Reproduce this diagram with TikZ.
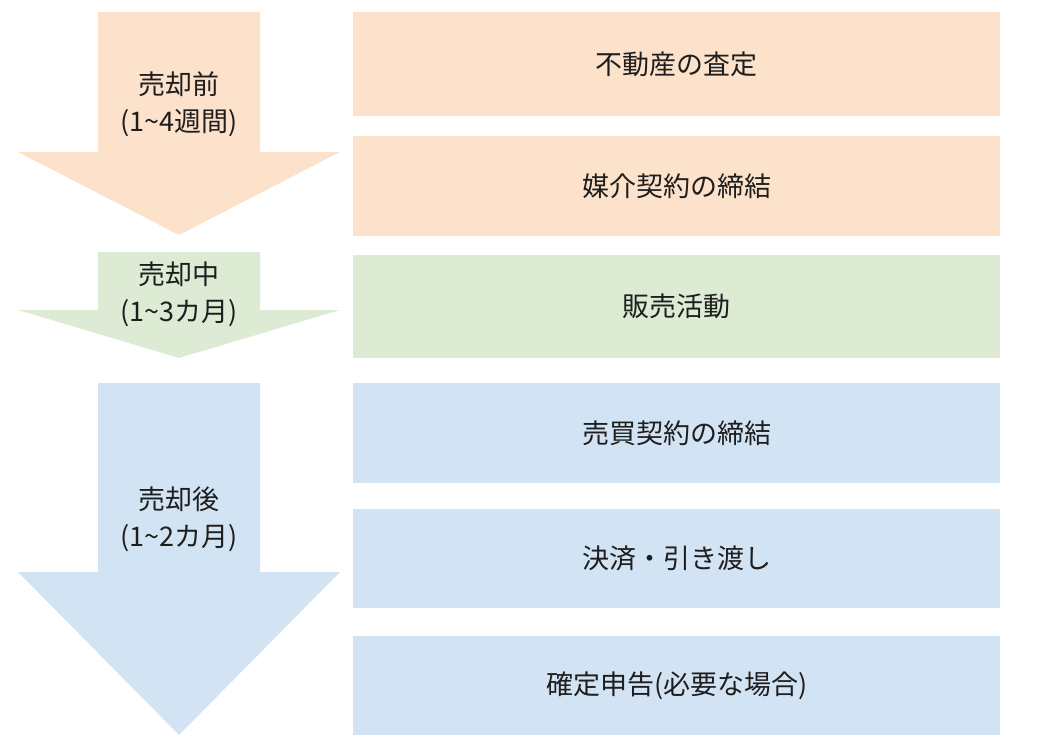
\documentclass[tikz,border=0pt]{standalone}
\usepackage{fontspec}
\setmainfont{Noto Sans CJK JP}
\definecolor{cor}{HTML}{FCE2CB}
\definecolor{cgr}{HTML}{DDEBD5}
\definecolor{cbl}{HTML}{D2E3F4}
\definecolor{ctx}{HTML}{1E1E1E}
\begin{document}
\begin{tikzpicture}[x=1pt,y=-1pt,
  stepbox/.style={minimum width=647pt,anchor=north west,inner sep=0pt,text=ctx,font=\fontsize{27}{32}\selectfont},
  lbl/.style={text=ctx,align=center,font=\fontsize{27}{37}\selectfont}]
\useasboundingbox (0,0) rectangle (1038,754);
\fill[cor] (98,12) -- (260,12) -- (260,152) -- (340,152) -- (179,235) -- (18,152) -- (98,152) -- cycle;
\fill[cgr] (98,252) -- (260,252) -- (260,310) -- (340,310) -- (179,358) -- (18,310) -- (98,310) -- cycle;
\fill[cbl] (98,383) -- (260,383) -- (260,572) -- (340,572) -- (179,735) -- (18,572) -- (98,572) -- cycle;
\node[lbl] (l1) at (179,104) {売却前\\(1\textasciitilde4週間)};
\node[lbl] (l2) at (179,294) {売却中\\(1\textasciitilde3カ月)};
\node[lbl] (l3) at (179,519) {売却後\\(1\textasciitilde2カ月)};
\node[stepbox,fill=cor,minimum height=104pt] (b1) at (353,12) {不動産の査定};
\node[stepbox,fill=cor,minimum height=100pt] (b2) at (353,136) {媒介契約の締結};
\node[stepbox,fill=cgr,minimum height=103pt] (b3) at (353,255) {販売活動};
\node[stepbox,fill=cbl,minimum height=100pt] (b4) at (353,383) {売買契約の締結};
\node[stepbox,fill=cbl,minimum height=99pt] (b5) at (353,509) {決済・引き渡し};
\node[stepbox,fill=cbl,minimum height=99pt] (b6) at (353,636) {確定申告(必要な場合)};
\end{tikzpicture}
\end{document}
